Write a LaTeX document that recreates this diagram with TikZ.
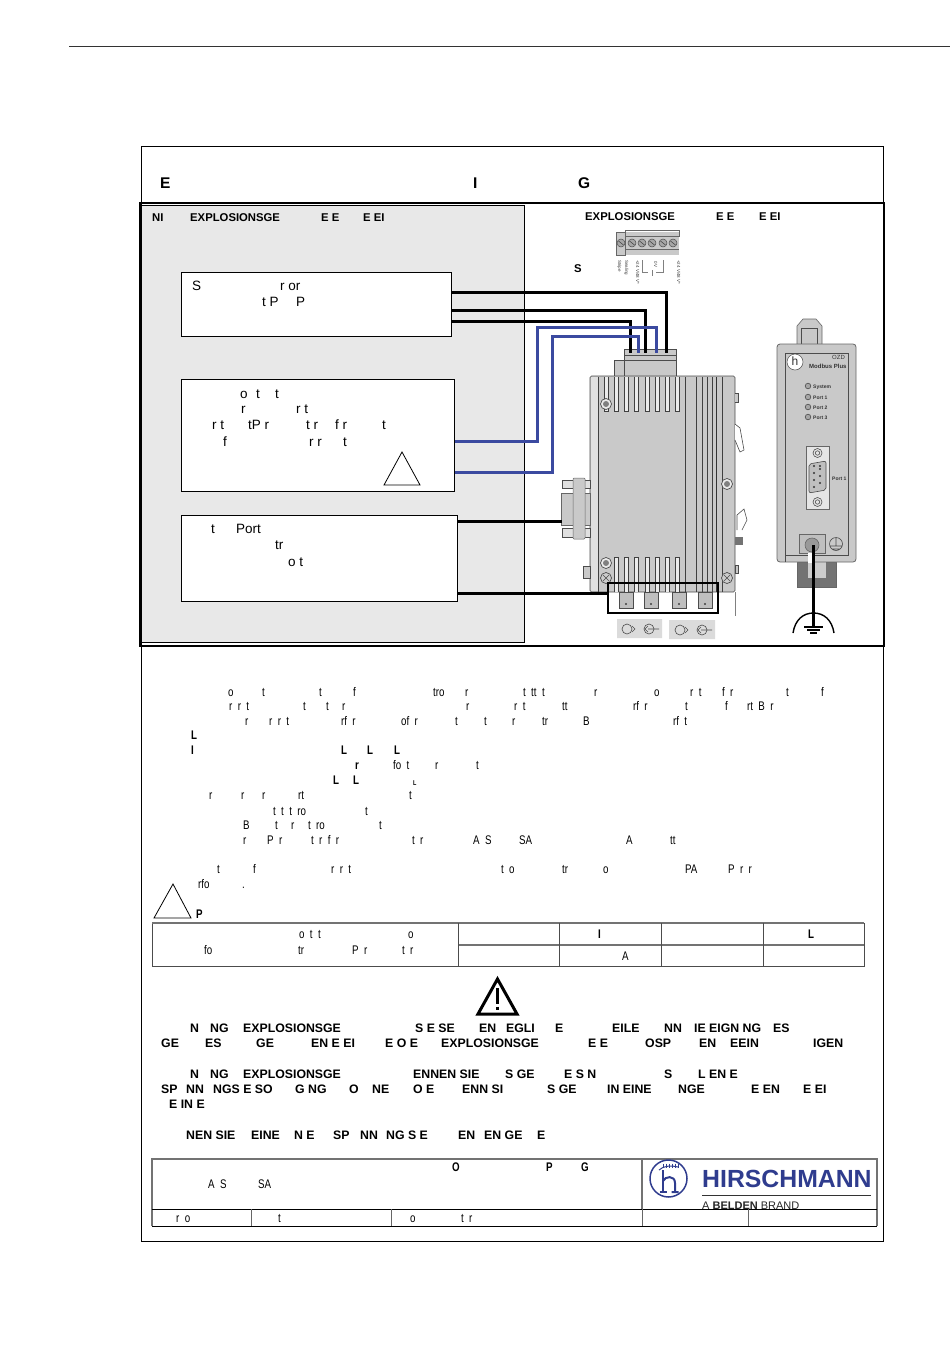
\documentclass[tikz,border=0pt]{standalone}
\usepackage{fontspec}
\setmainfont{Liberation Sans}
\usetikzlibrary{calc}
\usetikzlibrary{positioning}
\definecolor{zonegray}{HTML}{E8E8E8}
\definecolor{devgray}{HTML}{C9C9C9}
\definecolor{wireblue}{HTML}{3B4AA0}
\definecolor{logoblue}{HTML}{2F3C8E}
\newcommand{\widegaps}{\spaceskip=.55em\relax}
\tikzset{
  frag/.style={anchor=base west, inner sep=0pt, yshift=-4pt, font=\fontsize{12.5}{13}\selectfont\widegaps, xscale=.78, transform shape},
  fragb/.style={frag, font=\fontsize{12.5}{13}\bfseries\selectfont},
  boxtext/.style={anchor=base west, inner sep=0pt, yshift=-4.5pt, font=\fontsize{13.5}{14}\selectfont},
  headtext/.style={anchor=base west, inner sep=0pt, yshift=-4pt, font=\fontsize{11.3}{12}\bfseries\selectfont},
  warntext/.style={anchor=base west, inner sep=0pt, yshift=-4pt, font=\fontsize{12.3}{13}\bfseries\selectfont},
  infobox/.style={draw=black, fill=white, line width=.8pt, anchor=north west, inner sep=0pt},
  blackwire/.style={line width=3pt, black},
  bluewire/.style={line width=3pt, wireblue},
  fin/.style={line width=.6pt, black!75},
  screw/.style={draw=black!70, fill=black!35, line width=.7pt},
  tiny/.style={inner sep=0pt, anchor=base west, font=\fontsize{5}{6}\bfseries\selectfont, black!80},
}
\begin{document}
\begin{tikzpicture}[x=1pt, y=-1pt]
    \useasboundingbox (0,0) rectangle (950,1360);

    % page rule and outer frame
    \draw[line width=.8pt, black!80] (69,46) -- (950,46);
    \draw[line width=.8pt] (141,146) rectangle (883,1241);

    % title line
    \foreach \x/\t in {160/E, 473/I, 578/G} {
        \node[anchor=base west, inner sep=0pt, font=\fontsize{15.5}{16}\bfseries\selectfont] at (\x,188.5) {\t};
    }

    % non hazardous zone
    \draw[fill=zonegray, line width=.7pt] (141,205) rectangle (524,642);
    \draw[line width=2.8pt] (140,203) rectangle (884,646);
    \foreach \x/\y/\t in {152/217/NI, 190/217/EXPLOSIONSGE, 321/217/E E, 363/217/E EI,
                          585/216/EXPLOSIONSGE, 716/216/E E, 759/216/E EI, 574/268/S} {
        \node[headtext] at (\x,\y) {\t};
    }

    % info boxes
    \node[infobox, minimum width=270pt, minimum height=64pt] (sensorbox) at (181,272) {};
    \node[infobox, minimum width=273pt, minimum height=112pt] (faultbox) at (181,379) {};
    \node[infobox, minimum width=276pt, minimum height=86pt] (portbox) at (181,515) {};
    \foreach \x/\y/\t in {192/286/S, 280/286/r or, 262/302/t P, 296/302/P,
                          240/394/o, 256/394/t, 275/394/t, 241/409/r, 296/409/r t,
                          212/425/r t, 248/425/tP r, 306/425/t r, 335/425/f r, 382/425/t,
                          223/442/f, 309/442/r r, 343/442/t,
                          211/529/t, 236/529/Port, 275/545/tr, 288/562/o t} {
        \node[boxtext] at (\x,\y) {\t};
    }
    \draw[line width=.8pt] (384,485) -- (402,452) -- (420,485) -- cycle;

    % connection strip
    \fill[devgray] (616,232) rectangle (679,255);
    \draw[black!60, line width=.5pt] (616,232) rectangle (625,255) (625,230) rectangle (679,236) (625,249) -- (679,249);
    \foreach \x in {621,632,642,652,663,673} {
        \draw[screw, line width=.5pt] (\x,243) circle (4pt);
        \draw[black!70, line width=.6pt] (\x-2.5,241) -- (\x+2.5,245);
    }
    \foreach \x/\t in {613/Stripe, 620/Sealing, 631/{+24 V/48 V*}, 672/{+24 V/48 V*}} {
        \node[rotate=-90, anchor=base west, inner sep=0pt, font=\fontsize{4.5}{5}\selectfont, black!75] at (\x+5,260) {\t};
    }
    \draw[black!50, line width=.4pt] (642,260) -- (642,272) -- (648,272) (663,260) -- (663,272) -- (656,272) (652,270) -- (652,276);
    \node[rotate=-90, anchor=base west, inner sep=0pt, font=\fontsize{4.5}{5}\selectfont, black!75] (zerolabel) at (654,261) {0 V};

    % terminal block above the switch
    \fill[devgray] (614,360) rectangle (676,378) (624,349) rectangle (676,360);
    \draw[black!70, line width=.5pt] (624,349) -- (676,349) -- (676,378) (624,349) -- (624,378) (614,378) -- (614,360) -- (676,360) (624,355) -- (676,355);

    % switch body
    \draw[fill=devgray, draw=black!70, line width=.6pt, rounded corners=1.5pt] (590,376) rectangle (735,592);
    \fill[black!12] (590.5,377) rectangle (598,591);
    \draw[fin] (598,377) -- (598,592);
    \foreach \x in {685,696,702,707,712,722} {
        \draw[fin] (\x,377) -- (\x,592);
    }
    \draw[line width=.9pt, black!80] (716,377) -- (716,592);
    \foreach \x in {604,614,624,634,645,655,665,675} {
        \draw[fin, fill=black!8] (\x,377) -- (\x,411) -- (\x+4,411) -- (\x+4,377);
    }
    \foreach \x in {614,624,634,645,655,665,675} {
        \draw[fin, fill=black!8] (\x,592) -- (\x,557) -- (\x+4,557) -- (\x+4,592);
    }
    \foreach \x/\y in {606/404, 727/484, 606/563} {
        \draw[screw, fill=black!8] (\x,\y) circle (5.5pt);
        \fill[black!50] (\x,\y) circle (3pt);
    }
    \foreach \x/\y in {606/578, 727/578} {
        \draw[screw, fill=black!20] (\x,\y) circle (5.5pt);
        \draw[black!70] (\x-3,\y-3) -- (\x+3,\y+3) (\x-3,\y+3) -- (\x+3,\y-3);
    }
    \draw[draw=black!70, fill=devgray, line width=.5pt] (583,566) rectangle (590,578);

    % side clips
    \draw[draw=black!70, fill=devgray, line width=.5pt] (735,393) -- (738,393) -- (738,402) -- (735,402);
    \draw[draw=black!70, fill=white, line width=.6pt] (735,424) -- (740,428) -- (744,450) -- (740,452) -- (735,440);
    \draw[draw=black!70, fill=white, line width=.6pt] (737,530) -- (737,515) -- (744,509) -- (747,520) -- (742,530);
    \fill[black!55] (735,537) rectangle (743,545);
    \draw[draw=black!70, fill=devgray, line width=.5pt] (735,565) rectangle (738,573);
    \draw[black!50, line width=.9pt] (735.5,592) -- (735.5,616);

    % d-sub on the left side
    \draw[draw=black!60, fill=devgray, line width=.5pt] (561,493) rectangle (590,525);
    \draw[draw=black!70, fill=black!12, line width=.5pt] (562,480) rectangle (590,488) (562,528) rectangle (590,537);
    \draw[draw=black!60, fill=devgray, line width=.5pt, rounded corners=1pt] (573,478) rectangle (585,539);

    % wires
    \draw[blackwire] (sensorbox.east |- 0,292) -- (666,292) -- (666,353);
    \draw[blackwire] (sensorbox.east |- 0,310) -- (645,310) -- (645,353);
    \draw[blackwire] (sensorbox.east |- 0,321) -- (630,321) -- (630,353);
    \draw[bluewire] (faultbox.east |- 0,441) -- (537,441) -- (537,327) -- (656,327) -- (656,353);
    \draw[bluewire] (faultbox.east |- 0,472) -- (552,472) -- (552,336) -- (638,336) -- (638,353);
    \draw[blackwire] (portbox.east |- 0,521) -- (562,521);
    \draw[blackwire] (portbox.east |- 0,593) -- (608,593);

    % fibre terminals
    \foreach \x in {619,644,672,698} {
        \draw[draw=black!70, fill=black!25, line width=.5pt] (\x,592) rectangle (\x+14,608);
        \fill[black!75] (\x+7,604) circle (1.2pt);
    }
    \draw[line width=2.8pt] (608,583) rectangle (718,613);

    % tx and rx legend
    \fill[black!14] (617,619) rectangle (662,638) (669,620) rectangle (715,639);
    \foreach \x/\y in {621/629, 674/630} {
        \draw[black!70, line width=.6pt] (\x+6,\y) circle (5pt);
        \draw[black!70, line width=.6pt] (\x+11,\y-3) -- (\x+14,\y) -- (\x+11,\y+3);
        \draw[black!70, line width=.6pt] (\x+28,\y) circle (5pt);
        \draw[black!70, line width=.6pt] (\x+27,\y) -- (\x+38,\y) (\x+27,\y-3) -- (\x+24,\y) -- (\x+27,\y+3);
    }

    % modbus plus interface
    \draw[draw=black!60, fill=devgray, line width=.6pt] (797,344) -- (797,326) -- (803,319) -- (816,319) -- (822,326) -- (822,344);
    \draw[black!70, line width=.6pt] (801,344) -- (801,328) -- (817,328) -- (817,344);
    \draw[draw=black!60, fill=black!55, line width=.5pt] (797,562) rectangle (836,587);
    \fill[black!20] (808,562) rectangle (826,578);
    \draw[draw=black!60, fill=devgray, line width=.8pt, rounded corners=3pt] (777,344) rectangle (856,562);
    \draw[black!70, line width=.5pt] (785,562) -- (785,353) -- (848,353) -- (848,555) -- (785,555);
    \draw[draw=black!70, fill=white, line width=.5pt] (795,362) circle (8pt);
    \node[inner sep=0pt, font=\fontsize{12}{12}\selectfont, black!80] (ozdlogo) at (795,361) {h};
    \node[tiny, font=\fontsize{6}{6}\selectfont] (ozdname) at (832,359) {OZD};
    \node[tiny, font=\fontsize{6}{6}\bfseries\selectfont] (ozdtype) at (809,368) {Modbus Plus};
    \foreach \y/\t in {386/System, 397/Port 1, 407/Port 2, 417/Port 3} {
        \draw[draw=black!70, fill=black!35, line width=.6pt] (808,\y) circle (2.8pt);
        \node[tiny] at (813,\y+2) {\t};
    }
    \draw[draw=black!60, fill=black!10, line width=.5pt] (806,446) rectangle (829,509);
    \foreach \y in {453,502} {
        \draw[black!70, line width=.6pt] (817.5,\y) circle (4.5pt) (817.5,\y) circle (2.2pt);
    }
    \draw[draw=black!70, fill=black!25, line width=.6pt, rounded corners=2pt] (809,464) -- (826,461) -- (826,490) -- (809,493) -- cycle;
    \foreach \x/\y in {814/466, 814/473, 814/480, 814/487, 820/469, 820/476, 820/483, 820/466} {
        \fill[black!80] (\x,\y) circle (1.1pt);
    }
    \node[tiny] (portlabel) at (832,480) {Port 1};
    \draw[draw=black!60, fill=black!25, line width=.5pt] (799,534) rectangle (825,553);
    \draw[draw=black!60, fill=black!40, line width=.6pt] (812,545) circle (7pt);
    \draw[black!70, line width=.6pt] (836,544) circle (6.5pt) (830,546) -- (842,546) (836,538) -- (836,546) (832,549) -- (840,549);
    \fill[white] (808,553) rectangle (813,563);

    % earth symbol
    \coordinate (earthtop) at (813,545);
    \coordinate (earthbase) at (813,627);
    \draw[blackwire] (earthtop) -- (earthbase);
    \draw[line width=1.4pt] (793,633) .. controls (795,620) and (803,613) .. (813.5,613) .. controls (824,613) and (832,620) .. (834,633);
    \draw[line width=1.2pt] (804,627) -- (823,627) (807,630) -- (820,630) (810,633) -- (817,633);

    % body text
    \foreach \x/\y/\t in {228/692/o, 262/692/t, 319/692/t, 353/692/f, 433/692/tro, 465/692/r, 523/692/t tt t, 594/692/r, 654/692/o, 690/692/r t, 722/692/f r, 786/692/t, 821/692/f,
        229/706/r r t, 303/706/t, 326/706/t, 342/706/r, 466/706/r, 514/706/r t, 562/706/tt, 633/706/rf r, 685/706/t, 725/706/f, 747/706/rt B r,
        245/721/r, 269/721/r r t, 341/721/rf r, 401/721/of r, 455/721/t, 484/721/t, 512/721/r, 542/721/tr, 583/721/B, 673/721/rf t,
        393/765/fo t, 435/765/r, 476/765/t,
        209/795/r, 241/795/r, 262/795/r, 298/795/rt, 409/795/t,
        273/811/t t t ro, 365/811/t,
        243/825/B, 275/825/t, 291/825/r, 308/825/t ro, 379/825/t,
        243/840/r, 267/840/P r, 311/840/t r f r, 412/840/t r, 473/840/A S, 519/840/SA, 626/840/A, 670/840/tt,
        217/869/t, 253/869/f, 331/869/r r t, 501/869/t o, 562/869/tr, 603/869/o, 685/869/PA, 728/869/P r r,
        198/884/rfo, 242/884/.,
        299/934/o t t, 408/934/o, 204/950/fo, 298/950/tr, 352/950/P r, 402/950/t r, 622/956/A,
        208/1184/A S, 258/1184/SA, 176/1218/r o, 278/1218/t, 410/1218/o, 461/1218/t r} {
        \node[frag] at (\x,\y) {\t};
    }
    \foreach \x/\y/\t in {191/735/L, 191/750/I, 341/750/L, 367/750/L, 394/750/L, 355/765/r, 333/780/L, 353/780/L,
        196/914/P, 598/934/I, 808/934/L, 452/1167/O, 546/1167/P, 581/1167/G} {
        \node[fragb] at (\x,\y) {\t};
    }
    \node[frag, font=\fontsize{7}{8}\bfseries\selectfont, yshift=1pt] (smallL) at (413,782) {L};

    % warning triangle beside the table
    \draw[line width=.8pt] (154,918) -- (173,884) -- (191,918) -- cycle;

    % data table
    \draw[black!70, line width=.8pt] (152,923) rectangle (864,966);
    \draw[black!55, line width=1.6pt] (152,923) -- (864,923);
    \draw[black!55, line width=1.6pt] (458,945) -- (864,945);
    \foreach \x in {458,559,661,763} {
        \draw[black!70, line width=.7pt] (\x,923) -- (\x,966);
    }

    % warning sign and warning text
    \draw[line width=3pt, line join=miter] (478,1014) -- (497.5,979) -- (517,1014) -- cycle;
    \draw[line width=2.4pt] (497.5,988) -- (497.5,1004);
    \draw[line width=2.4pt] (497.5,1006.5) -- (497.5,1009.5);
    \foreach \x/\y/\t in {190/1028/N, 210/1028/NG, 243/1028/EXPLOSIONSGE, 415/1028/S E SE, 479/1028/EN, 506/1028/EGLI, 555/1028/E, 612/1028/EILE, 664/1028/NN, 694/1028/IE EIGN NG, 773/1028/ES,
        161/1043/GE, 205/1043/ES, 256/1043/GE, 311/1043/EN E EI, 385/1043/E O E, 441/1043/EXPLOSIONSGE, 588/1043/E E, 645/1043/OSP, 699/1043/EN, 730/1043/EEIN, 813/1043/IGEN,
        190/1074/N, 210/1074/NG, 243/1074/EXPLOSIONSGE, 413/1074/ENNEN SIE, 505/1074/S GE, 564/1074/E S N, 664/1074/S, 698/1074/L EN E,
        161/1089/SP, 186/1089/NN, 213/1089/NGS E SO, 295/1089/G NG, 349/1089/O, 372/1089/NE, 413/1089/O E, 462/1089/ENN SI, 547/1089/S GE, 607/1089/IN EINE, 678/1089/NGE, 751/1089/E EN, 803/1089/E EI,
        169/1104/E IN E,
        186/1135/NEN SIE, 251/1135/EINE, 294/1135/N E, 333/1135/SP, 360/1135/NN, 386/1135/NG S E, 458/1135/EN, 484/1135/EN GE, 537/1135/E} {
        \node[warntext] at (\x,\y) {\t};
    }

    % title block
    \draw[black!55, line width=1.3pt] (152,1226) -- (152,1159) -- (877,1159) -- (877,1226);
    \draw[black!55, line width=1.3pt] (642,1159) -- (642,1209);
    \draw[line width=.9pt] (152,1209) -- (877,1209);
    \draw[line width=.9pt] (152,1226) -- (877,1226);
    \foreach \x in {251,391,642,748} {
        \draw[black!60, line width=.7pt] (\x,1209) -- (\x,1226);
    }

    % logo
    \draw[logoblue, line width=1.5pt] (668.5,1178.5) ellipse (18.5pt and 18.5pt);
    \draw[logoblue, line width=2pt] (663,1170) -- (663,1192) (659.5,1192) -- (666.5,1192);
    \draw[logoblue, line width=2pt] (663,1181) .. controls (665,1176) and (675,1175) .. (675,1183) -- (675,1192) (671.5,1192) -- (678.5,1192);
    \draw[logoblue, line width=1pt] (659,1170) .. controls (663,1166) and (671,1165) .. (678,1167);
    \foreach \x in {663,666,669,672,675,678} {
        \draw[logoblue, line width=.8pt] (\x,1163.5) -- (\x,1168);
    }
    \node[anchor=base west, inner sep=0pt, text=logoblue, font=\fontsize{24.8}{26}\bfseries\selectfont] (logoname) at (702,1187) {HIRSCHMANN};
    \draw[black!80, line width=.8pt] (702,1195) -- (871,1195);
    \node[anchor=base west, inner sep=0pt, font=\fontsize{11}{12}\selectfont, black!85] (logotag) at (702,1209) {A \textbf{BELDEN} BRAND};
\end{tikzpicture}
\end{document}
